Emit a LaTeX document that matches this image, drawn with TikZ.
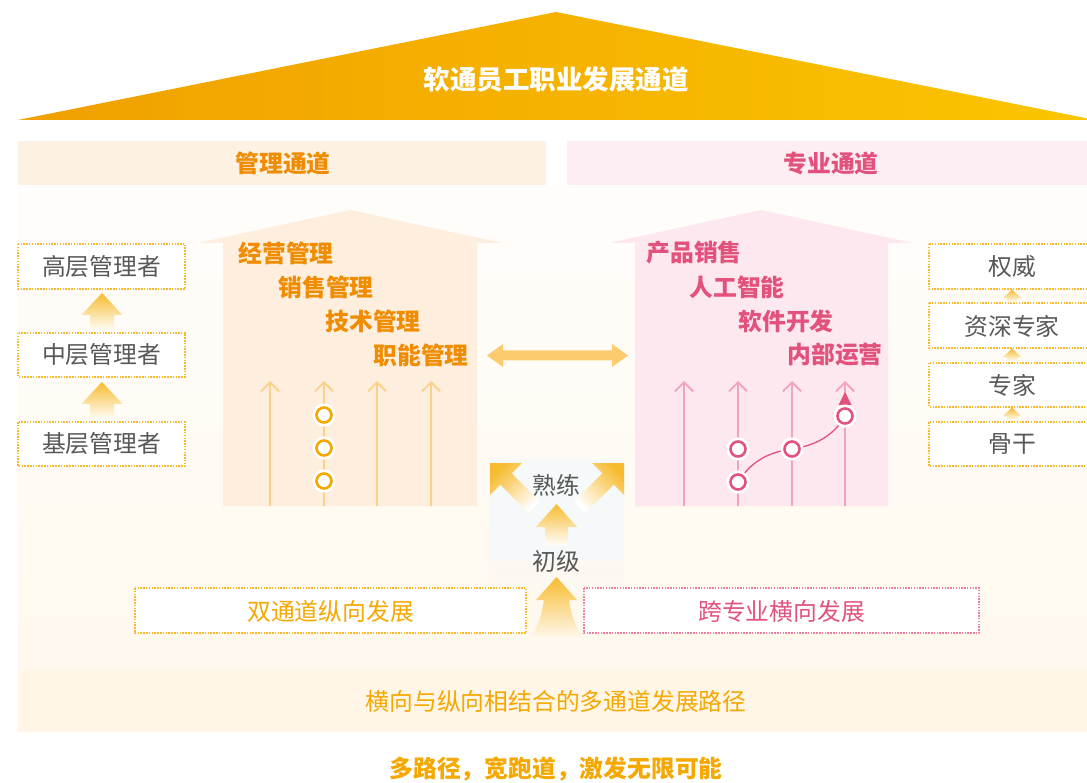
\documentclass[tikz,border=0pt]{standalone}
\usepackage{fontspec}
\setmainfont{Noto Sans CJK SC}
\usetikzlibrary{arrows.meta}
\definecolor{triL}{HTML}{F0A000}
\definecolor{triR}{HTML}{FBC500}
\definecolor{mgOr}{HTML}{F08C00}
\definecolor{ylOr}{HTML}{F5A800}
\definecolor{pk}{HTML}{E2527C}
\definecolor{grayT}{HTML}{585858}
\definecolor{barL}{HTML}{FDF1E4}
\definecolor{barR}{HTML}{FCEEF2}
\definecolor{houseL}{HTML}{FDEEDD}
\definecolor{houseR}{HTML}{FCE8EE}
\definecolor{lineL}{HTML}{FAD08A}
\definecolor{lineR}{HTML}{F0A5BC}
\definecolor{dotOr}{HTML}{F6B92B}
\definecolor{dotPk}{HTML}{EA7FA0}
\definecolor{arrOr}{HTML}{F7BB30}
\definecolor{dblOr}{HTML}{FBCB6E}
\definecolor{bandC}{HTML}{FFF6E8}
\definecolor{panelT}{HTML}{FFFDFB}
\definecolor{panelB}{HTML}{FFF8EE}
\definecolor{midBox}{HTML}{F6F9F9}
\begin{document}
\begin{tikzpicture}[x=1pt,y=-1pt,
  txt/.style={font=\fontsize{23.8}{26}\selectfont, text=grayT, inner sep=0pt},
  boldt/.style={font=\fontsize{23.8}{26}\selectfont\bfseries, inner sep=0pt},
  orbox/.style={draw=dotOr, line width=1.2pt, dash pattern=on 1.5pt off 1.3pt, fill=white},
  pkbox/.style={draw=dotPk, line width=1.2pt, dash pattern=on 1.5pt off 1.3pt, fill=white},
  larr/.style={draw=lineL, line width=1.8pt, -{Straight Barb[length=9pt,width=18pt]}},
  rarr/.style={draw=lineR, line width=1.8pt, -{Straight Barb[length=9pt,width=18pt]}},
  ocirc/.style={circle, minimum size=15pt, inner sep=0pt, draw=ylOr, line width=2.6pt, fill=white, preaction={draw=white, line width=8pt}},
  pcirc/.style={circle, minimum size=15pt, inner sep=0pt, draw=pk, line width=2.6pt, fill=white, preaction={draw=white, line width=8pt}},
  gup/.style={top color=arrOr, bottom color=white, draw=none},
]
\useasboundingbox (0,0) rectangle (1087,783);
\clip (0,0) rectangle (1087,783);
\fill[white] (0,0) rectangle (1087,783);

% roof triangle
\shade[left color=triL, right color=triR] (18,120) -- (556,12) -- (1095,120) -- cycle;
\node[boldt, text=white, font=\fontsize{26.5}{30}\selectfont\bfseries] (title) at (556,79) {软通员工职业发展通道};

% header bars
\fill[barL] (18,141) rectangle (546,186);
\fill[barR] (567,141) rectangle (1090,186);
\node[boldt, text=mgOr] (hL) at (283,163) {管理通道};
\node[boldt, text=pk] (hR) at (831,163) {专业通道};

% panel
\shade[top color=panelT, bottom color=panelB] (18,186) rectangle (1090,670);
\fill[bandC] (18,670) rectangle (1090,732);
\node[txt, text=ylOr] (band) at (556,701) {横向与纵向相结合的多通道发展路径};
\node[boldt, text=ylOr] (slogan) at (556,769) {多路径，宽跑道，激发无限可能};

% houses
\fill[houseL] (198,243) -- (350,210) -- (502,243) -- (477,243) -- (477,506) -- (223,506) -- (223,243) -- cycle;
\fill[houseR] (609,243) -- (761,210) -- (913,243) -- (888,243) -- (888,506) -- (635,506) -- (635,243) -- cycle;

\node[boldt, text=mgOr] (m1) at (286,253) {经营管理};
\node[boldt, text=mgOr] (m2) at (326,287) {销售管理};
\node[boldt, text=mgOr] (m3) at (373,321) {技术管理};
\node[boldt, text=mgOr] (m4) at (421,355) {职能管理};
\node[boldt, text=pk] (s1) at (694,253) {产品销售};
\node[boldt, text=pk] (s2) at (737,287) {人工智能};
\node[boldt, text=pk] (s3) at (786,321) {软件开发};
\node[boldt, text=pk] (s4) at (835,355) {内部运营};

% left vertical arrows
\foreach \i/\x in {1/270,2/324,3/377,4/431}{
  \coordinate (lb\i) at (\x,506); \coordinate (lt\i) at (\x,381);
  \draw[larr] (lb\i) -- (lt\i);
}
\node[ocirc] (o1) at (324,415) {};
\node[ocirc] (o2) at (324,448) {};
\node[ocirc] (o3) at (324,481) {};

% right vertical arrows
\foreach \i/\x in {1/684,2/738,3/792,4/845}{
  \coordinate (rb\i) at (\x,506); \coordinate (rt\i) at (\x,381);
  \draw[rarr] (rb\i) -- (rt\i);
}
\coordinate (p1) at (738,482);
\coordinate (p2) at (738,449);
\coordinate (p3) at (792,449);
\coordinate (p4) at (845,416);
\draw[pk, line width=1.3pt] (p1) .. controls (752,460) and (770,452) .. (p3);
\draw[pk, line width=1.3pt] (p3) .. controls (820,445) and (836,432) .. (p4);
\draw[pk, line width=1.3pt] (p4) -- (845,400);
\fill[pk] (845,392) -- (851.5,405) -- (838.5,405) -- cycle;
\node[pcirc] (q1) at (p1) {};
\node[pcirc] (q2) at (p2) {};
\node[pcirc] (q3) at (p3) {};
\node[pcirc] (q4) at (p4) {};

% double arrow
\fill[dblOr] (487,355.5) -- (503,344) -- (503,350.5) -- (612,350.5) -- (612,344) -- (628,355.5) -- (612,367) -- (612,360.5) -- (503,360.5) -- (503,367) -- cycle;

% left boxes
\draw[orbox] (18,244) rectangle (185,289);
\draw[orbox] (18,333) rectangle (185,377);
\draw[orbox] (18,422) rectangle (185,466);
\node[txt] (L1) at (101.5,267) {高层管理者};
\node[txt] (L2) at (101.5,355) {中层管理者};
\node[txt] (L3) at (101.5,444) {基层管理者};
\shade[gup] (102,293) -- (122.5,315) -- (114,315) -- (114,331) -- (90,331) -- (90,315) -- (81.5,315) -- cycle;
\shade[gup] (102,382) -- (122.5,404) -- (114,404) -- (114,420) -- (90,420) -- (90,404) -- (81.5,404) -- cycle;

% right boxes
\draw[orbox] (929,244) rectangle (1092,289);
\draw[orbox] (929,303) rectangle (1092,348);
\draw[orbox] (929,363) rectangle (1092,407);
\draw[orbox] (929,422) rectangle (1092,466);
\node[txt] (R1) at (1012,267) {权威};
\node[txt] (R2) at (1012,326) {资深专家};
\node[txt] (R3) at (1012,385) {专家};
\node[txt] (R4) at (1012,444) {骨干};
\foreach \t in {289.5,348.5,407.5}{
  \shade[gup] (1012,\t) -- (1021.5,\t+9) -- (1017,\t+9) -- (1017,\t+13) -- (1007,\t+13) -- (1007,\t+9) -- (1002.5,\t+9) -- cycle;
}

% center column
\shade[top color=midBox, bottom color=panelB] (489,459) rectangle (624,615);
\fill[midBox] (489,459) rectangle (624,560);
\node[txt] (c2) at (556,485) {熟练};
\node[txt] (c1) at (556,561) {初级};
\shade[gup] (556.5,504) -- (577,527) -- (568,527) -- (568,546) -- (545,546) -- (545,527) -- (536,527) -- cycle;
\shade[top color=arrOr, bottom color=white, shading angle=45] (490,463) -- (522,463) -- (511.7,473.3) -- (540,501.6) -- (528.6,513) -- (500.3,484.7) -- (490,495) -- cycle;
\shade[top color=arrOr, bottom color=white, shading angle=-45] (624,463) -- (592,463) -- (602.3,473.3) -- (574,501.6) -- (585.4,513) -- (613.7,484.7) -- (624,495) -- cycle;

% bottom boxes
\draw[orbox] (135,588) rectangle (526,633);
\draw[pkbox] (584,588) rectangle (979,633);
\node[txt, text=ylOr] (B1) at (330.5,611) {双通道纵向发展};
\node[txt, text=pk] (B2) at (781.5,611) {跨专业横向发展};
\shade[top color=arrOr, bottom color=panelB] (556.5,577) -- (577,600) -- (569,600) .. controls (571,615) and (576,628) .. (583,638) -- (531,638) .. controls (537,628) and (542,615) .. (544,600) -- (536,600) -- cycle;
\end{tikzpicture}
\end{document}
